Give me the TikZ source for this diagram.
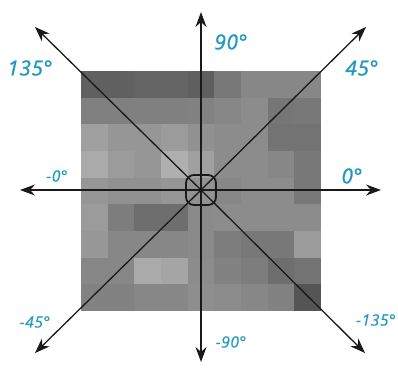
\documentclass[tikz,border=0pt]{standalone}
\usepackage{fontspec}
\setmainfont{Open Sans}
\newfontfamily\bigfont{Open Sans}[ItalicFeatures={FakeBold=1.3}, LetterSpace=4]
\newfontfamily\smallfont{Open Sans}[ItalicFeatures={FakeBold=0.5}, LetterSpace=4]
\usetikzlibrary{arrows.meta}
\definecolor{lbl}{RGB}{32,152,192}
\definecolor{axis}{RGB}{25,25,25}
\begin{document}
\begin{tikzpicture}[x=1pt,y=-1pt,
  arr/.style={draw=axis, line width=1.3pt, -{Stealth[length=15pt,width=11pt]}},
  big/.style={text=lbl, font=\bigfont\fontsize{20.5}{20}\selectfont\itshape, inner sep=0pt},
  small/.style={text=lbl, font=\smallfont\fontsize{15.5}{15}\selectfont\itshape, inner sep=0pt},
  hub/.style={draw=axis, line width=1.8pt, rounded corners=8pt, minimum size=30pt, inner sep=0pt}]
\useasboundingbox (0,0) rectangle (398,369);
\foreach \rowvals [count=\r from 0] in {
  {96,96,100,100,95,120,135,135,135},
  {128,128,128,128,130,135,140,118,120},
  {160,150,150,155,145,140,140,115,115},
  {170,155,150,175,160,140,140,135,120},
  {150,145,145,150,145,135,140,140,120},
  {155,125,110,110,138,140,140,140,140},
  {152,135,135,135,138,125,120,120,155},
  {135,135,170,165,140,130,125,110,115},
  {130,130,135,135,142,140,135,130,85}} {
  \foreach \v [count=\c from 0] in \rowvals {
    \fill[fill={rgb,255:red,\v;green,\v;blue,\v}] (81+\c*26.667,71+\r*26.667) rectangle ++(26.9,26.9);
  }
}
\node[hub] (c) at (201,190) {};
\coordinate (tU) at (201,12);
\coordinate (tD) at (201,362);
\coordinate (tL) at (20,190);
\coordinate (tR) at (381,190);
\coordinate (tUL) at (35,27);
\coordinate (tUR) at (366,27);
\coordinate (tDL) at (35,353);
\coordinate (tDR) at (365,353);
\foreach \t in {tU,tD,tL,tR,tUL,tUR,tDL,tDR}
  \draw[arr] (c.center) -- (\t);
\node[big] (l90) at (231,42) {90°};
\node[big] (l135) at (30,68) {135°};
\node[big] (l45) at (362,68) {45°};
\node[big] (l0) at (352,176) {0°};
\node[small] (lm0) at (57,176) {-0°};
\node[small] (lm45) at (35,322) {-45°};
\node[small] (lm90) at (231,342) {-90°};
\node[small] (lm135) at (376,320) {-135°};
\end{tikzpicture}
\end{document}
